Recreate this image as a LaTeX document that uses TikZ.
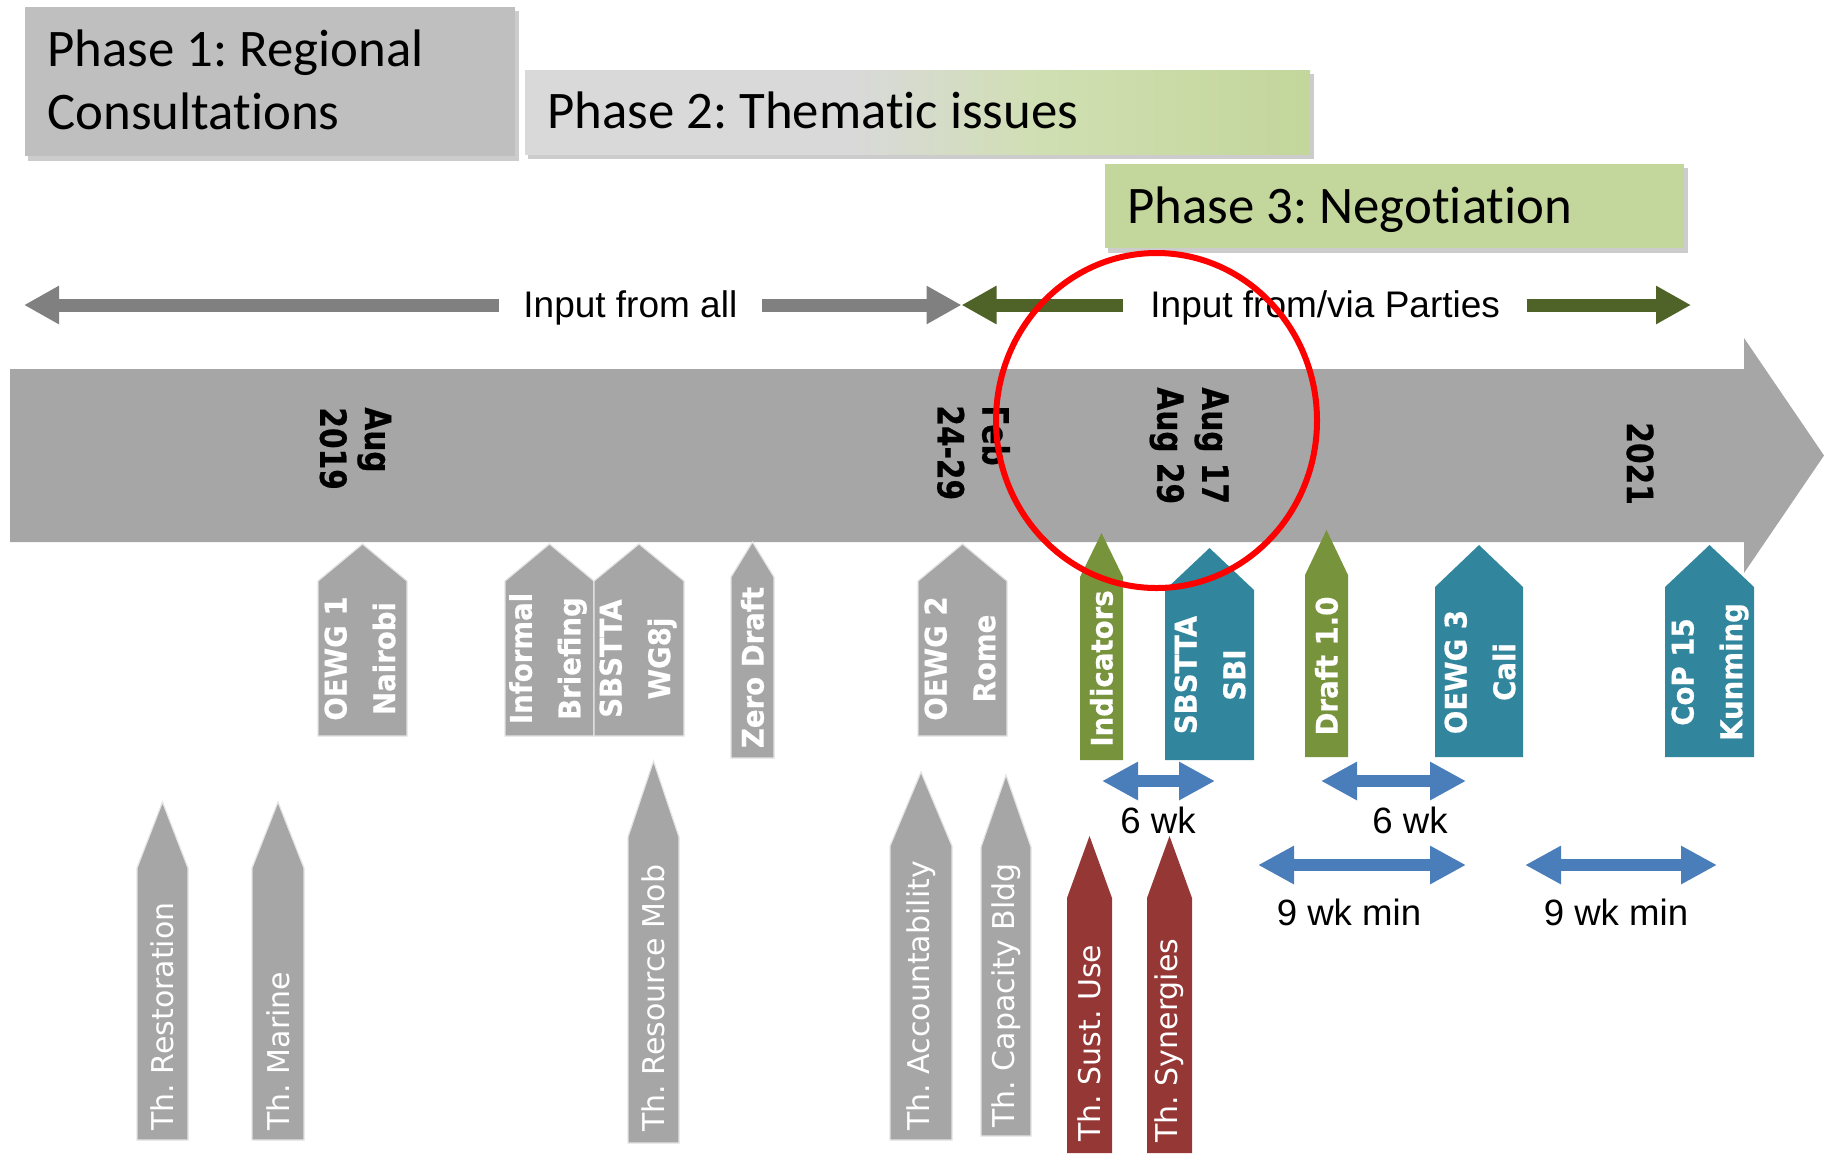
\documentclass[tikz,border=0pt]{standalone}
\usepackage{fontspec}
\setmainfont{Carlito}[Ligatures=NoCommon]
\newfontfamily\arialfont{Liberation Sans}
\newfontfamily\verdfont{DejaVu Sans}
\newfontfamily\verdbold{DejaVu Sans Bold}[FakeBold=0.6]
\usetikzlibrary{arrows.meta}

\definecolor{bandgray}{RGB}{166,166,166}
\definecolor{phaseone}{RGB}{191,191,191}
\definecolor{phasegray}{RGB}{217,217,217}
\definecolor{phasegreenl}{RGB}{208,223,178}
\definecolor{phasegreen}{RGB}{195,214,155}
\definecolor{inputgray}{RGB}{128,128,128}
\definecolor{inputgreen}{RGB}{79,98,40}
\definecolor{evgreen}{RGB}{119,147,60}
\definecolor{evteal}{RGB}{49,133,156}
\definecolor{evred}{RGB}{149,55,53}
\definecolor{wkblue}{RGB}{74,126,187}
\definecolor{markred}{RGB}{255,0,0}

\pgfdeclarehorizontalshading{phasetwoshade}{100bp}{color(0bp)=(phasegray); color(25bp)=(phasegray); color(46bp)=(phasegray); color(58bp)=(phasegreenl); color(75bp)=(phasegreen); color(100bp)=(phasegreen)}

\tikzset{
  phaseshadow/.style={fill=black, opacity=0.2},
  phasetext/.style={inner sep=0pt, align=left, font=\fontsize{26.4}{31.5}\selectfont},
  inputtext/.style={inner ysep=0pt, inner xsep=12pt, anchor=west, text height=13.5pt, text depth=1pt, font=\arialfont\fontsize{18.5}{22}\selectfont},
  grayflow/.style={draw=inputgray, line width=6.5pt, -{Triangle[length=17.5pt,width=18pt]}},
  greenflow/.style={draw=inputgreen, line width=6.5pt, -{Triangle[length=17.5pt,width=18pt]}},
  datetext/.style={inner sep=0pt, rotate=-90, yscale=1.22, anchor=west, align=left, font=\verdbold\fontsize{14.8}{18.4}\selectfont},
  evgray/.style={fill=bandgray, draw=white!70!bandgray, line width=0.6pt},
  evgreenbox/.style={fill=evgreen, draw=none},
  evtealbox/.style={fill=evteal, draw=none},
  evredbox/.style={fill=evred, draw=none},
  evlabel/.style={inner sep=0pt, rotate=90, yscale=1.08, align=center, text=white, font=\verdbold\fontsize{13.8}{22.5}\selectfont},
  thlabel/.style={inner sep=0pt, rotate=90, anchor=west, text=white, font=\verdfont\fontsize{15}{18}\selectfont},
  wkflow/.style={draw=wkblue, line width=6pt, {Triangle[length=18pt,width=18pt]}-{Triangle[length=18pt,width=18pt]}},
  wktext/.style={inner sep=0pt, anchor=base, font=\arialfont\fontsize{18.3}{22}\selectfont},
}

\begin{document}
\frenchspacing
\begin{tikzpicture}[x=0.5pt,y=0.5pt,yscale=-1,xscale=1]
\useasboundingbox (0,0) rectangle (1824,1153);

%Shape: Rectangle (phase 1)
\fill [phaseshadow] (28,11) rectangle (519,161);
\draw [draw=none, fill=phaseone] (25,7) -- (515,7) -- (515,156) -- (25,156) -- cycle ;
%Shape: Rectangle (phase 2)
\fill [phaseshadow] (528,74) rectangle (1314,159);
\draw [draw=none, shading=phasetwoshade] (525,70) -- (1310,70) -- (1310,154) -- (525,154) -- cycle ;
%Shape: Rectangle (phase 3)
\fill [phaseshadow] (1108,168) rectangle (1688,253);
\draw [draw=none, fill=phasegreen] (1105,164) -- (1684,164) -- (1684,248) -- (1105,248) -- cycle ;

% Text Node
\draw (47,80) node [phasetext, anchor=west] (phaseA) {Phase 1: Regional\\Consultations};
% Text Node
\draw (547,128) node [phasetext, anchor=base west] (phaseB) {Phase 2: Thematic issues};
% Text Node
\draw (1127,223) node [phasetext, anchor=base west] (phaseC) {Phase 3: Negotiation};

%Straight Lines (input arrows)
\coordinate (allleft) at (24,305);
\coordinate (meet) at (961.5,305);
\coordinate (partright) at (1691,305);
\draw (499,305) node [inputtext] (inall) {Input from all};
\draw (1123,305) node [inputtext, inner xsep=13.5pt] (inparties) {Input from/via Parties};
\draw [grayflow] (inall.west) -- (allleft);
\draw [grayflow] (inall.east) -- (meet);
\draw [greenflow] (inparties.west) -- (meet);
\draw [greenflow] (inparties.east) -- (partright);

%Shape: Right Arrow (timeline)
\draw [draw=none, fill=bandgray] (10,369) -- (1744,369) -- (1744,338) -- (1824,455.5) -- (1744,573) -- (1744,542) -- (10,542) -- cycle ;

% Text Node
\draw (355.5,407) node [datetext] (dateA) {Aug\\2019};
\draw (973.5,405) node [datetext] (dateB) {Feb\\24-29};
\draw (1189,387) node [datetext] (dateC) {Aug 17\\Aug 29};
\draw (1640,422) node [datetext] (dateD) {2021};

%Shape: Pentagon (meetings)
\draw [evgray] (318,581) -- (362.5,544) -- (407,581) -- (407,736) -- (318,736) -- cycle ;
\draw [evgray] (505,581) -- (549.5,544) -- (594,581) -- (594,736) -- (505,736) -- cycle ;
\draw [evgray] (594,581) -- (639,544) -- (684,581) -- (684,736) -- (594,736) -- cycle ;
\draw [evgray] (731,577) -- (752.5,542) -- (774,577) -- (774,758) -- (731,758) -- cycle ;
\draw [evgray] (918,581) -- (962.5,544) -- (1007,581) -- (1007,736) -- (918,736) -- cycle ;
\draw [evgreenbox] (1080,577) -- (1101.5,533) -- (1123,577) -- (1123,760) -- (1080,760) -- cycle ;
\draw [evtealbox] (1165,590) -- (1209.5,548) -- (1254,590) -- (1254,760) -- (1165,760) -- cycle ;
\draw [evgreenbox] (1305,575) -- (1326.5,530) -- (1348,575) -- (1348,757) -- (1305,757) -- cycle ;
\draw [evtealbox] (1435,587) -- (1479,545) -- (1523,587) -- (1523,757) -- (1435,757) -- cycle ;
\draw [evtealbox] (1665,587) -- (1709.5,545) -- (1754,587) -- (1754,757) -- (1665,757) -- cycle ;

% Text Node
\draw (360,658.5) node [evlabel] (oewgA) {OEWG 1\\Nairobi};
\draw (548,658.5) node [evlabel] (briefing) {Informal\\Briefing};
\draw (638,658.5) node [evlabel] (wgej) {SBSTTA\\WG8j};
\draw (752.5,667.5) node [evlabel] (zerodraft) {Zero Draft};
\draw (960,658.5) node [evlabel] (oewgB) {OEWG 2\\Rome};
\draw (1101.5,668.5) node [evlabel] (indicators) {Indicators};
\draw (1210,675) node [evlabel] (sbstta) {SBSTTA\\SBI};
\draw (1326.5,666) node [evlabel] (draftone) {Draft 1.0};
\draw (1480,672) node [evlabel] (oewgC) {OEWG 3\\Cali};
\draw (1710,672) node [evlabel] (cop) {CoP 15\\Kunming};

%Shape: Pentagon (thematic)
\draw [evgray] (137,868) -- (162.5,802) -- (188,868) -- (188,1140) -- (137,1140) -- cycle ;
\draw [evgray] (252,868) -- (278,802) -- (304,868) -- (304,1140) -- (252,1140) -- cycle ;
\draw [evgray] (628,837) -- (653.5,761) -- (679,837) -- (679,1143) -- (628,1143) -- cycle ;
\draw [evgray] (890,846) -- (921,772) -- (952,846) -- (952,1140) -- (890,1140) -- cycle ;
\draw [evgray] (981,847) -- (1006,775) -- (1031,847) -- (1031,1136) -- (981,1136) -- cycle ;
\draw [evredbox] (1067,898) -- (1089.5,836) -- (1112,898) -- (1112,1153) -- (1067,1153) -- cycle ;
\draw [evredbox] (1147,898) -- (1169.5,836) -- (1192,898) -- (1192,1153) -- (1147,1153) -- cycle ;

% Text Node
\draw (162.5,1131) node [thlabel] (threst) {Th. Restoration};
\draw (278,1131) node [thlabel] (thmarine) {Th. Marine};
\draw (653.5,1132) node [thlabel] (thres) {Th. Resource Mob};
\draw (921,1131) node [thlabel] (thacc) {Th. Accountability};
\draw (1006,1128) node [thlabel] (thcap) {Th. Capacity Bldg};
\draw (1089.5,1142) node [thlabel] (thsust) {Th. Sust. Use};
\draw (1169.5,1143) node [thlabel] (thsyn) {Th. Synergies};

%Straight Lines (intervals)
\coordinate (wkAa) at (1102,781);
\coordinate (wkAb) at (1215,781);
\coordinate (wkBa) at (1321,781);
\coordinate (wkBb) at (1466,781);
\coordinate (wkCa) at (1258,865);
\coordinate (wkCb) at (1466,865);
\coordinate (wkDa) at (1525,865);
\coordinate (wkDb) at (1717,865);
\draw [wkflow] (wkAa) -- (wkAb);
\draw [wkflow] (wkBa) -- (wkBb);
\draw [wkflow] (wkCa) -- (wkCb);
\draw [wkflow] (wkDa) -- (wkDb);

% Text Node
\draw (1158,833) node [wktext] (wkA) {6 wk};
\draw (1410,833) node [wktext] (wkB) {6 wk};
\draw (1349,925) node [wktext] (wkC) {9 wk min};
\draw (1616,925) node [wktext] (wkD) {9 wk min};

%Shape: Ellipse
\draw [draw=markred, line width=3pt] (1156.5,420.5) ellipse [x radius=160.5, y radius=167.5];

\end{tikzpicture}
\end{document}
